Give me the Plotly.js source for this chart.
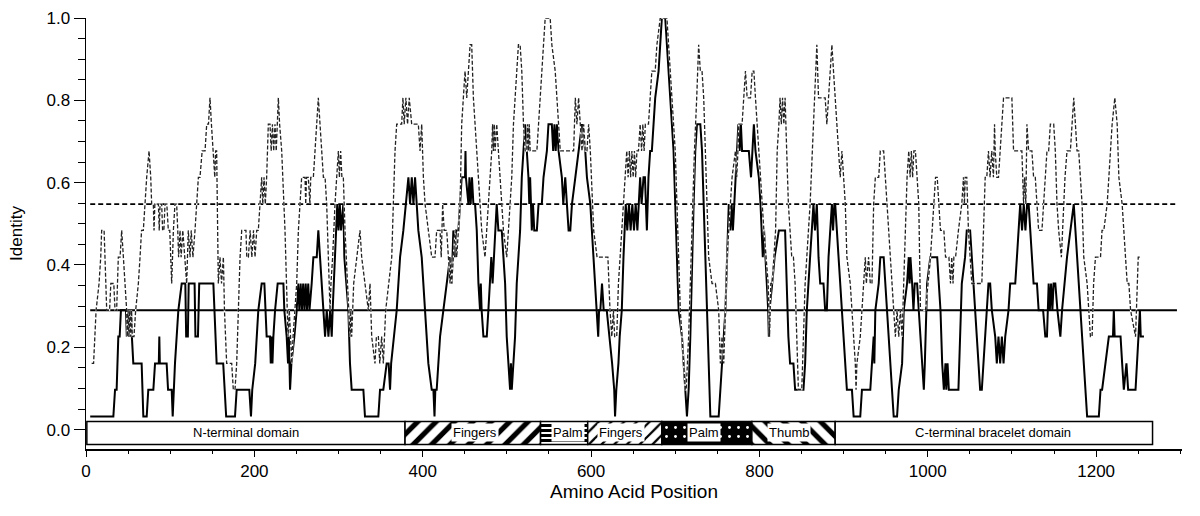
<!DOCTYPE html>
<html><head><meta charset="utf-8">
<script src="https://cdn.plot.ly/plotly-3.0.1.min.js"></script>
<style>html,body{margin:0;padding:0;background:#fff}#chart{width:1200px;height:516px}</style>
</head><body><div id="chart"></div>
<script>
// Sliding-window identity profiles: [amino acid position, identity]
const solidProfile = [[5,.032],[32.5,.032],[34.5,.097],[36.4,.097],[38.4,.226],[40,.226],[41.5,.290],[47.5,.290],[48.5,.226],[49.5,.290],[50.5,.226],[51.5,.290],[52.5,.226],[53.5,.290],[54.5,.226],[56.2,.161],[66.1,.161],[68.1,.032],[72.1,.032],[74,.097],[80,.097],[82,.161],[86.5,.161],[87.1,.226],[87.7,.161],[95.8,.161],[97.5,.097],[101.8,.097],[103,.032],[104,.097],[105.7,.161],[109.7,.290],[113.7,.355],[118,.355],[119,.226],[121,.226],[122,.355],[129,.355],[130,.226],[133,.226],[134.5,.355],[151.3,.355],[155.2,.161],[163,.161],[165,.097],[166.5,.032],[177,.032],[179,.097],[194,.097],[196,.032],[197.5,.097],[201,.161],[204.7,.290],[208.7,.355],[211.9,.355],[214.6,.226],[218.6,.226],[219.5,.161],[220.5,.226],[221.5,.161],[222.6,.226],[224.6,.290],[227.7,.355],[234.5,.355],[235.6,.290],[238.4,.226],[240,.161],[241,.226],[242.4,.097],[244,.161],[247.5,.226],[250.3,.290],[252,.355],[253.5,.290],[255,.355],[256.5,.290],[258,.355],[259.5,.290],[261,.355],[262.5,.290],[264,.355],[265.5,.290],[268.1,.355],[270.1,.419],[274.1,.419],[276,.484],[278,.419],[280,.355],[282,.290],[284,.226],[286,.290],[288,.226],[290,.290],[291.9,.226],[293,.290],[295.8,.419],[297,.484],[298.5,.548],[300,.484],[301.5,.548],[303,.484],[305.7,.548],[306.9,.419],[311.7,.290],[313.6,.161],[315.6,.097],[329.5,.097],[331.4,.032],[347.3,.032],[349.3,.097],[353.2,.097],[357.2,.161],[359.5,.161],[361.2,.097],[362.5,.161],[369.1,.290],[373.1,.419],[377,.484],[383,.613],[385,.548],[387,.613],[389,.548],[390.9,.613],[392.9,.548],[394.8,.484],[398.8,.419],[402.8,.290],[406.7,.161],[410.7,.097],[412.7,.097],[414,.032],[415,.097],[416.6,.097],[418.6,.161],[420.6,.226],[424.5,.290],[428.5,.355],[432.5,.419],[434.4,.355],[435.5,.419],[436.4,.484],[438,.419],[439.5,.484],[442.4,.484],[444.4,.548],[446.3,.613],[450.3,.613],[450.8,.677],[451.3,.613],[454.3,.548],[455.5,.613],[457,.548],[458.5,.613],[460.2,.548],[462.2,.548],[464.2,.484],[466.2,.355],[468.1,.290],[469,.355],[470,.290],[472.1,.226],[476.1,.226],[478,.290],[480,.355],[481.5,.419],[483,.355],[484.5,.419],[486,.484],[487.9,.548],[489.9,.484],[493.9,.484],[495.9,.419],[497.9,.355],[499.8,.226],[503.8,.097],[504.8,.161],[505.8,.097],[509.7,.226],[511.7,.355],[515.7,.484],[517.7,.613],[521.7,.742],[523.6,.677],[525.6,.613],[526.6,.548],[527.6,.613],[529.6,.484],[531,.548],[532.5,.484],[535.6,.484],[537.6,.548],[541.5,.548],[543.5,.613],[547.5,.677],[549.4,.742],[553.4,.742],[555,.677],[556.5,.742],[558,.677],[559.5,.742],[561.4,.677],[565.3,.613],[567,.548],[569.3,.613],[571.3,.548],[573.3,.484],[575.3,.484],[577.3,.548],[581.3,.613],[585.2,.677],[589.2,.742],[593.1,.677],[595.1,.613],[599.1,.548],[603.1,.419],[605,.355],[607.1,.290],[608.5,.226],[609.5,.290],[611,.290],[613,.355],[615,.290],[618.6,.290],[622,.226],[625,.161],[627.5,.097],[628.5,.032],[630,.097],[632.5,.161],[634,.226],[636.5,.290],[638.5,.419],[641.2,.548],[643,.484],[645,.548],[647,.484],[649,.548],[651,.484],[653,.548],[655,.484],[656.3,.548],[658.3,.613],[660,.548],[662.3,.613],[664,.613],[666.3,.484],[668.2,.613],[670.2,.677],[672.2,.677],[674.2,.742],[676.2,.806],[680.2,.871],[682.2,.935],[684.1,1.0],[688.1,1.0],[690.1,.935],[692.1,.871],[694.1,.806],[696,.742],[698,.677],[700,.548],[702,.419],[704,.290],[708,.226],[710,.161],[711.9,.097],[713.9,.032],[715.9,.097],[717.9,.226],[721.8,.548],[723.8,.677],[725.8,.742],[729.8,.742],[731.8,.677],[733.8,.548],[735.8,.419],[737.7,.290],[739.7,.161],[741.7,.032],[751.6,.032],[753.6,.097],[755.6,.161],[759.6,.290],[761.6,.419],[763.6,.548],[765.5,.484],[767,.548],[768.5,.484],[770,.548],[771.5,.613],[773.5,.677],[775,.742],[776.5,.677],[778,.742],[779.4,.677],[787.4,.677],[790,.613],[791.5,.677],[793.4,.742],[795.3,.677],[799.3,.613],[801.3,.548],[802.5,.484],[804,.419],[805.5,.484],[807.2,.419],[810.4,.290],[811.2,.226],[812,.290],[815.2,.355],[818,.419],[823.1,.484],[830.5,.484],[832.4,.355],[834.4,.226],[836.4,.161],[840.4,.161],[842.4,.097],[852.3,.097],[854.3,.161],[856.3,.290],[860.2,.419],[864.2,.548],[866,.484],[868.2,.548],[870.2,.419],[872.2,.355],[876.1,.355],[878.1,.290],[880.1,.290],[882.1,.419],[886.1,.548],[887.5,.484],[889,.548],[890,.548],[892,.484],[894,.419],[896,.355],[900,.226],[902,.161],[903.9,.097],[909.9,.097],[911.9,.032],[919.8,.032],[921.8,.097],[931.7,.097],[933.7,.161],[935.7,.226],[936.5,.161],[937.7,.290],[941.7,.355],[943.6,.419],[947.6,.419],[949.6,.355],[951.6,.290],[955.6,.161],[957.5,.097],[959.5,.032],[963.5,.032],[965.5,.097],[969.5,.161],[971.4,.290],[975.4,.355],[977.4,.419],[978.4,.355],[979.4,.419],[981.4,.355],[983,.290],[984.5,.355],[987.3,.355],[989.3,.290],[993.3,.161],[995.3,.097],[996.5,.161],[999.2,.355],[1003,.419],[1011.2,.419],[1013.1,.355],[1015.1,.290],[1017.1,.161],[1019.1,.097],[1021,.161],[1022,.097],[1023.5,.161],[1025,.097],[1036.4,.097],[1038.4,.226],[1040.4,.355],[1044.3,.419],[1046.3,.484],[1050.3,.484],[1052.3,.419],[1054.3,.355],[1058.2,.226],[1060.2,.161],[1062.2,.097],[1064.2,.097],[1066.2,.161],[1070.1,.290],[1072.1,.355],[1074.1,.355],[1076.1,.290],[1080.1,.226],[1082,.161],[1084,.226],[1086,.161],[1088,.226],[1090,.161],[1092,.226],[1095.9,.290],[1097.9,.355],[1103.9,.355],[1105.9,.419],[1109.8,.548],[1112,.484],[1114,.548],[1116,.484],[1118,.548],[1119.8,.548],[1123.7,.419],[1125.7,.355],[1129.7,.355],[1131.7,.290],[1137,.290],[1139.6,.226],[1141.6,.226],[1143.6,.355],[1145,.290],[1146.5,.355],[1148,.290],[1149.5,.355],[1151.5,.355],[1154,.290],[1157.5,.226],[1159.5,.290],[1165.4,.419],[1169.4,.484],[1173.4,.548],[1175.4,.484],[1177.3,.419],[1179.3,.355],[1181.3,.290],[1185.3,.161],[1187.3,.097],[1189.3,.032],[1203.2,.032],[1205.2,.097],[1207.1,.097],[1211,.161],[1215.1,.226],[1220,.226],[1221,.290],[1222,.226],[1229,.226],[1230.9,.161],[1232.9,.097],[1236,.161],[1238,.097],[1246.8,.097],[1250,.226],[1252,.290],[1253,.226],[1256.8,.226]];

const dashedProfile = [[6.7,.161],[9,.161],[12,.290],[15.5,.355],[17.5,.419],[18.6,.484],[21.5,.484],[23,.355],[24.6,.290],[28,.290],[29.5,.355],[33,.355],[34.5,.290],[36.4,.290],[38.4,.419],[40.5,.419],[42.4,.484],[44.4,.419],[46.3,.355],[48.3,.290],[49,.226],[50,.290],[51,.226],[52,.290],[53,.226],[54,.290],[55,.226],[57,.226],[59,.290],[62.2,.355],[64.2,.419],[66,.484],[68.1,.484],[70,.548],[72.1,.613],[74.9,.677],[76.9,.613],[78,.548],[80,.548],[80.8,.484],[81.8,.548],[86,.548],[87,.484],[88,.548],[89.9,.548],[91,.484],[92.5,.484],[93.9,.548],[96,.548],[97.8,.484],[99.5,.484],[101.8,.355],[103.8,.484],[105.7,.548],[107.7,.548],[109,.484],[110,.419],[111.7,.484],[113,.419],[115,.484],[117.6,.419],[119.6,.355],[121.5,.484],[123.6,.419],[125,.484],[127,.419],[129.5,.484],[131.5,.548],[133.5,.613],[135.4,.613],[138,.677],[141.4,.677],[143.4,.742],[145.5,.742],[147.3,.806],[149,.742],[151.3,.677],[153,.613],[154,.677],[155.2,.677],[157.2,.355],[159.2,.419],[161,.355],[163.2,.419],[164.5,.290],[167.1,.161],[173.1,.161],[175,.097],[177,.097],[179,.161],[181,.290],[183,.419],[185,.484],[190,.484],[191,.419],[192.9,.419],[195,.484],[197,.419],[199,.484],[200.8,.419],[202.8,.484],[204.7,.484],[206.7,.548],[208.7,.613],[210,.548],[211.5,.613],[213,.548],[214.6,.613],[216.6,.742],[218.6,.742],[220,.677],[221.5,.742],[223,.677],[224.5,.742],[226,.677],[228.5,.806],[230,.742],[232.5,.677],[236.4,.484],[238.4,.355],[240,.226],[241.5,.290],[243,.226],[244.5,.161],[246,.226],[248.3,.290],[250.3,.355],[252.3,.484],[254.2,.548],[256.2,.613],[260.2,.613],[261,.548],[262,.613],[264.1,.613],[266,.548],[267,.613],[270.1,.613],[272.1,.677],[274.1,.742],[276,.806],[278,.742],[280,.677],[282,.613],[284,.613],[285.9,.548],[287.9,.419],[289.9,.290],[291,.355],[293,.419],[295.8,.548],[297.8,.613],[299.8,.677],[301,.613],[302.5,.677],[304,.613],[305.7,.613],[307.7,.484],[310.9,.355],[312.5,.290],[313.6,.226],[314.6,.290],[315.6,.226],[318,.355],[321.6,.419],[325.5,.484],[327.5,.419],[331.4,.355],[335.4,.290],[337.4,.355],[339.4,.226],[343.3,.161],[345,.226],[347.3,.226],[349,.161],[351.2,.226],[353.2,.161],[356,.290],[359.2,.355],[363.2,.419],[365.1,.548],[367.1,.677],[369.1,.742],[375,.742],[376.5,.806],[378,.742],[380,.806],[382,.742],[384,.806],[386.9,.742],[394.8,.742],[396.8,.677],[398.8,.742],[400.8,.613],[402.8,.548],[406.7,.484],[410.7,.419],[414.6,.419],[416.6,.484],[420.6,.484],[422,.419],[423.7,.548],[425.5,.484],[428.5,.484],[430.5,.419],[432.5,.355],[433.5,.419],[434.4,.355],[436.4,.419],[438.4,.484],[440.4,.419],[442.4,.484],[444.4,.548],[446.3,.742],[448.3,.806],[450.3,.871],[452.3,.806],[454.3,.871],[456.3,.935],[458.2,.935],[460.2,.806],[462.2,.742],[464.2,.677],[466.2,.613],[468.1,.548],[470.1,.484],[474,.419],[476.1,.484],[478,.548],[480,.613],[482,.677],[483,.742],[484,.677],[485,.742],[486,.677],[487.9,.742],[489.9,.677],[491.9,.613],[495.9,.484],[499.8,.419],[501.8,.484],[503.8,.548],[505.8,.613],[507.8,.742],[509.7,.806],[511.7,.871],[513.7,.935],[515.7,.935],[517.7,.871],[519.7,.742],[521.7,.677],[523.6,.677],[524.6,.742],[525.6,.677],[526.6,.742],[527.6,.677],[535.6,.677],[537.6,.742],[539.5,.806],[541.5,.871],[543.5,.935],[545.5,1.0],[551.4,1.0],[553.4,.935],[557.4,.871],[559.4,.806],[561.4,.742],[563.4,.677],[579.3,.677],[581.3,.806],[583.2,.742],[585.2,.806],[587.2,.742],[589.2,.677],[591.2,.742],[593.1,.677],[595.1,.677],[597.1,.742],[599.1,.677],[603.1,.484],[607.1,.419],[620,.419],[622.5,.290],[624.6,.226],[626.6,.290],[628,.226],[630.5,.226],[632.5,.355],[634.5,.419],[638.5,.548],[642.4,.677],[644,.613],[645.5,.677],[647,.613],[648.5,.677],[650,.613],[651.5,.677],[653,.613],[654.5,.677],[656.3,.677],[658.3,.742],[660,.677],[661.5,.742],[663,.677],[664.5,.742],[668.2,.742],[670.2,.806],[672.2,.871],[676.2,.871],[678.2,.935],[682.2,1.0],[690.1,1.0],[692.1,.935],[694.1,.871],[696,.806],[700,.677],[702,.548],[704,.419],[706,.290],[708,.226],[710,.161],[711.9,.097],[713,.097],[715.9,.226],[718.9,.419],[720.5,.548],[722.8,.677],[725.5,.806],[727.8,.935],[729.8,.871],[731.8,.871],[733.8,.806],[735.8,.677],[737.7,.548],[739.7,.419],[743.7,.355],[747.7,.355],[751.6,.290],[753.6,.161],[755.6,.226],[757.6,.161],[759.6,.290],[761.6,.419],[765.5,.548],[767.5,.613],[771.5,.677],[773,.613],[774.5,.677],[775.5,.742],[779.4,.742],[781.4,.806],[783.4,.871],[785.4,.806],[789.4,.806],[791.4,.871],[793.4,.871],[795.3,.806],[797.3,.742],[801.3,.613],[805.3,.484],[810.4,.355],[812,.226],[813.5,.355],[815.2,.355],[819.2,.484],[821.1,.677],[823.1,.742],[824.5,.806],[826,.742],[827.5,.806],[829,.742],[830.5,.806],[832.4,.677],[834.4,.548],[838.4,.419],[840.4,.419],[842.4,.355],[844.4,.226],[846.3,.097],[850.3,.097],[852.3,.226],[854.3,.355],[860.2,.548],[864.2,.742],[866.2,.871],[868.2,.935],[870.2,.806],[878.1,.806],[880.1,.742],[882.1,.806],[884.1,.871],[886.1,.935],[888,.871],[890,.806],[894,.677],[896,.613],[898,.677],[900,.613],[902,.548],[903.9,.419],[907.9,.355],[911.9,.226],[913.9,.161],[914.8,.097],[915.8,.161],[919.8,.226],[921.8,.290],[925.8,.419],[927,.355],[929.7,.419],[931.7,.355],[933.7,.355],[935.7,.548],[937.7,.613],[941.7,.613],[943.6,.677],[947.6,.677],[949.6,.613],[951.6,.548],[955.6,.419],[959.5,.290],[961.5,.226],[963.5,.290],[965.5,.226],[967.5,.290],[969.5,.226],[971.4,.355],[973.4,.484],[975.4,.613],[977.4,.677],[979,.613],[980.5,.677],[982,.613],[983.5,.677],[985.3,.677],[987.3,.613],[989.3,.548],[991.3,.290],[997.3,.290],[1003.2,.419],[1007.2,.548],[1009.2,.613],[1011.2,.613],[1013.1,.548],[1015.1,.484],[1019.1,.484],[1021.1,.419],[1025.1,.419],[1027,.355],[1028.5,.419],[1030,.355],[1031,.419],[1033,.419],[1036.4,.484],[1040.4,.548],[1042.4,.613],[1043.5,.548],[1044.5,.613],[1046.3,.613],[1048.3,.484],[1052.3,.355],[1064.2,.355],[1066.2,.484],[1068.2,.613],[1070.1,.613],[1072.1,.677],[1074,.613],[1076,.677],[1078,.613],[1079.3,.742],[1080.1,.677],[1082,.613],[1084,.613],[1086,.677],[1088,.742],[1090,.806],[1099.9,.806],[1101.9,.677],[1111.8,.677],[1113.8,.548],[1115,.613],[1116.5,.548],[1117.8,.742],[1119.8,.677],[1123.7,.677],[1125.7,.613],[1127.7,.613],[1129.7,.548],[1131.7,.484],[1135.6,.484],[1137.6,.548],[1139.6,.613],[1141.6,.677],[1143.6,.677],[1145.6,.742],[1149.6,.742],[1151.5,.677],[1153.5,.548],[1155.5,.484],[1158.7,.419],[1161,.548],[1163,.613],[1165.4,.677],[1169.4,.677],[1171.4,.742],[1173.4,.806],[1175.4,.742],[1177.3,.677],[1179.3,.677],[1183.3,.548],[1185.3,.419],[1189.3,.355],[1193.2,.226],[1195.2,.226],[1197,.355],[1199.2,.419],[1205.2,.419],[1207,.484],[1209.1,.484],[1213.1,.548],[1215.1,.613],[1219,.742],[1222.2,.806],[1225,.742],[1227,.613],[1230.9,.548],[1234.9,.419],[1236.9,.355],[1238.9,.355],[1240.9,.290],[1246.8,.226],[1248,.290],[1250,.419],[1252.8,.419]];

// Cut-off levels (horizontal reference lines)
const cutoffSolid = 0.29;
const cutoffDashed = 0.548;
const cutoffSpan = [5, 1296];

// Domain map
const domainNames = ['N-terminal domain', 'Fingers', 'Palm', 'Fingers', 'Palm', 'Thumb', 'C-terminal bracelet domain'];
const domainStart = [1, 379, 540, 596, 684, 791, 890];
const domainEnd   = [379, 540, 596, 684, 791, 890, 1267];
const domainLabelPos = [190, 462, 572, 636, 734, 835, 1078];

// axis ticks
const xTickVals = [0, 200, 400, 600, 800, 1000, 1200];
const yTickVals = [0, 0.2, 0.4, 0.6, 0.8, 1.0];
const yTickText = ['0.0', '0.2', '0.4', '0.6', '0.8', '1.0'];

const FONT = 'Liberation Sans, Arial, Helvetica, sans-serif';
const barY = -0.008, barH = 0.056;

const traces = [];
traces.push({
  type: 'bar', orientation: 'h',
  y: domainNames.map(() => barY),
  base: domainStart,
  x: domainStart.map((s, i) => domainEnd[i] - s),
  width: domainNames.map(() => barH),
  marker: {
    color: 'white',
    line: {color: 'black', width: 1.5},
    pattern: {
      shape: ['', '/', '-', '/', '.', '\\', ''],
      bgcolor: ['white', 'white', 'white', 'white', 'black', 'white', 'white'],
      fgcolor: ['black', 'black', 'black', 'black', 'white', 'black', 'black'],
      size: [8, 13, 5, 9, 9, 13, 8],
      solidity: [0.3, 0.4, 0.6, 0.25, 0.08, 0.4, 0.3],
      fillmode: 'replace'
    }
  },
  hoverinfo: 'skip', showlegend: false
});
traces.push({type: 'scatter', mode: 'lines', x: cutoffSpan, y: [cutoffSolid, cutoffSolid],
  line: {color: 'black', width: 2}, hoverinfo: 'skip', showlegend: false});
traces.push({type: 'scatter', mode: 'lines', x: cutoffSpan, y: [cutoffDashed, cutoffDashed],
  line: {color: 'black', width: 1.8, dash: '5px,3px'}, hoverinfo: 'skip', showlegend: false});
traces.push({type: 'scatter', mode: 'lines', x: solidProfile.map(p => p[0]), y: solidProfile.map(p => p[1]),
  line: {color: 'black', width: 2}, hoverinfo: 'skip', showlegend: false});
traces.push({type: 'scatter', mode: 'lines', x: dashedProfile.map(p => p[0]), y: dashedProfile.map(p => p[1]),
  line: {color: 'white', width: 1.4}, hoverinfo: 'skip', showlegend: false});
traces.push({type: 'scatter', mode: 'lines', x: dashedProfile.map(p => p[0]), y: dashedProfile.map(p => p[1]),
  line: {color: '#222222', width: 1.3, dash: '4px,2px'}, hoverinfo: 'skip', showlegend: false});

const annotations = domainNames.map((n, i) => ({
  x: domainLabelPos[i], y: barY, xref: 'x', yref: 'y', text: n, showarrow: false,
  font: {family: FONT, size: 13, color: 'black'},
  bgcolor: (i === 0 || i === 6) ? 'rgba(0,0,0,0)' : 'white', borderpad: 1
}));

const layout = {
  width: 1200, height: 516,
  margin: {l: 86, r: 18, t: 18, b: 67, pad: 0},
  paper_bgcolor: 'white', plot_bgcolor: 'white',
  barmode: 'overlay', showlegend: false,
  font: {family: FONT, color: 'black'},
  xaxis: {
    range: [0, 1302], showline: true, linecolor: 'black', linewidth: 1.5,
    ticks: 'outside', ticklen: 6, tickwidth: 1, tickcolor: 'black',
    tickvals: xTickVals, ticktext: xTickVals.map(String),
    minor: {dtick: 50, tick0: 0, ticks: 'outside', ticklen: 3, tickwidth: 1, tickcolor: 'black'},
    showgrid: false, zeroline: false,
    tickfont: {family: FONT, size: 17, color: 'black'},
    title: {text: 'Amino Acid Position', font: {family: FONT, size: 19, color: 'black'}, standoff: 1}
  },
  yaxis: {
    range: [-0.047, 1.0], showline: true, linecolor: 'black', linewidth: 1.5,
    ticks: 'outside', ticklen: 11, tickwidth: 1, tickcolor: 'black',
    tickvals: yTickVals, ticktext: yTickText,
    minor: {dtick: 0.05, tick0: 0, ticks: 'outside', ticklen: 7, tickwidth: 1, tickcolor: 'black'},
    showgrid: false, zeroline: false,
    tickfont: {family: FONT, size: 17, color: 'black'},
    title: {text: 'Identity', font: {family: FONT, size: 17, color: 'black'}, standoff: 19}
  },
  annotations: annotations
};

Plotly.newPlot('chart', traces, layout, {staticPlot: true, displayModeBar: false});
</script>
</body></html>
